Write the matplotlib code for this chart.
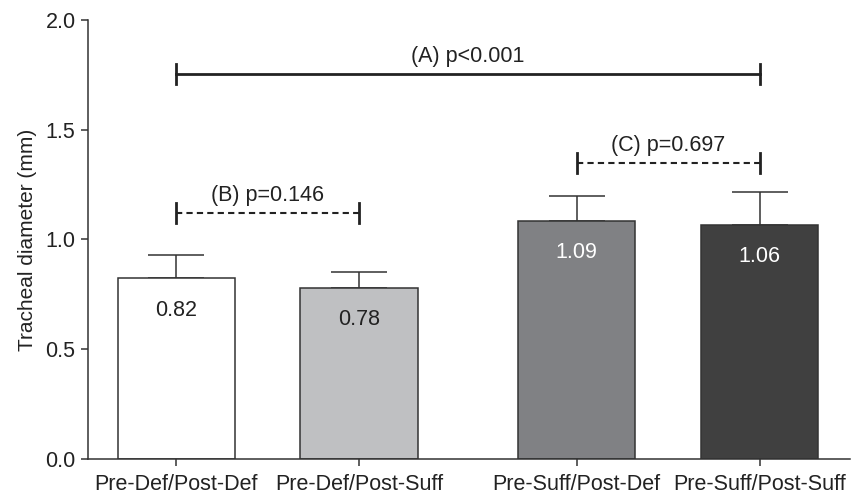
import numpy as np
import matplotlib
matplotlib.use("Agg")
import matplotlib.pyplot as plt

plt.rcParams['font.family'] = ['Liberation Sans', 'DejaVu Sans']

groups = ["Pre-Def/Post-Def", "Pre-Def/Post-Suff", "Pre-Suff/Post-Def", "Pre-Suff/Post-Suff"]
means = [0.823, 0.78, 1.086, 1.067]
errs = [0.107, 0.071, 0.114, 0.148]
value_labels = ["0.82", "0.78", "1.09", "1.06"]
positions = [0, 1, 2.19, 3.19]

# comparisons: (left bar, right bar, height, text, linestyle)
comparisons = [
    (0, 3, 1.753, "(A) p<0.001", "solid"),
    (0, 1, 1.12, "(B) p=0.146", "dashed"),
    (2, 3, 1.349, "(C) p=0.697", "dashed"),
]

fills = ["#ffffff", "#bfc0c2", "#808184", "#404040"]
text_cols = ["#222222", "#222222", "#ffffff", "#ffffff"]
edge = "#333333"
fs = 15.5

fig = plt.figure(figsize=(8.59, 4.97), dpi=100)
ax = fig.add_axes([0.1025, 0.0765, 0.887, 0.8833])

ax.bar(positions, means, width=0.64, color=fills, edgecolor=edge, linewidth=1.1, zorder=2)
ax.errorbar(positions, means, yerr=[np.zeros(4), errs], fmt="none", ecolor=edge,
            elinewidth=1.1, capsize=20, capthick=1.1, zorder=1)

for x, m, lab, c in zip(positions, means, value_labels, text_cols):
    ax.text(x, m - 0.145, lab, ha="center", va="center", fontsize=fs, color=c, zorder=3)

for i, j, h, txt, ls in comparisons:
    x1, x2 = positions[i], positions[j]
    lw = 2.0 if ls == "solid" else 1.5
    ax.plot([x1, x2], [h, h], color="#222222", lw=lw, linestyle=ls if ls == "solid" else (0, (3, 2)))
    for xe in (x1, x2):
        ax.plot([xe, xe], [h - 0.045, h + 0.045], color="#222222", lw=2.0)
    ax.annotate(txt, xy=((x1 + x2) / 2, h), xytext=(0, 5), textcoords="offset points",
                ha="center", va="bottom", fontsize=fs, color="#222222")

ax.set_xlim(-0.481, 3.683)
ax.set_ylim(0, 2.0)
ax.set_yticks(np.arange(0, 2.01, 0.5))
ax.set_yticklabels([f"{v:.1f}" for v in np.arange(0, 2.01, 0.5)])
ax.set_xticks(positions)
ax.set_xticklabels(groups)
ax.set_ylabel("Tracheal diameter (mm)", fontsize=15, color="#222222", labelpad=6)

for s in ["top", "right"]:
    ax.spines[s].set_visible(False)
for s in ["left", "bottom"]:
    ax.spines[s].set_color(edge)
    ax.spines[s].set_linewidth(1.1)
ax.tick_params(direction="out", length=5, width=1.1, color=edge, labelsize=fs,
               labelcolor="#222222")
ax.tick_params(axis="x", pad=6)
ax.tick_params(axis="y", pad=4)

fig.savefig("out.png", dpi=100)
